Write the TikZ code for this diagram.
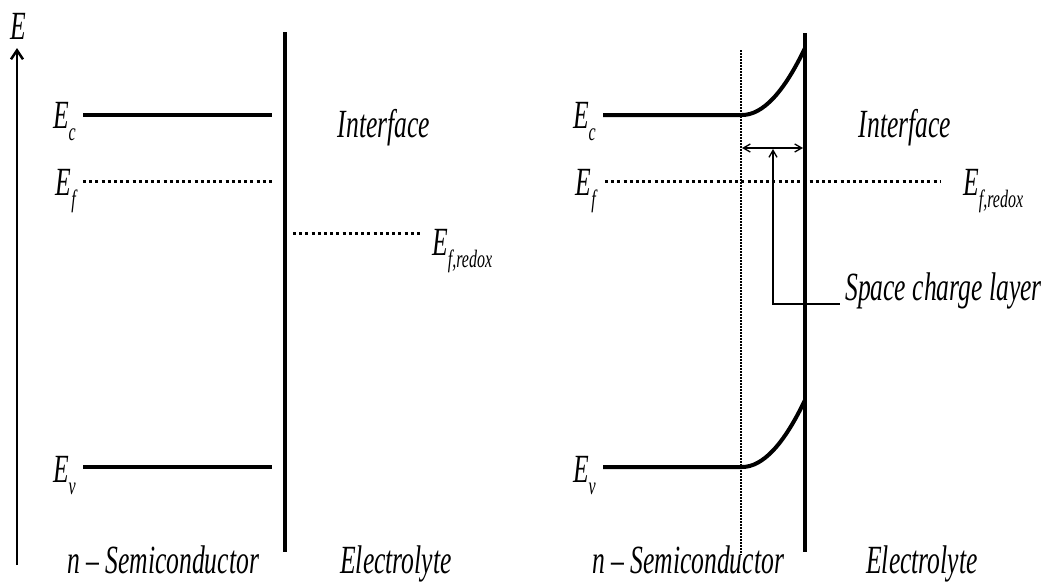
\documentclass[tikz,border=0pt]{standalone}
\usepackage{fontspec}
\setmainfont{Liberation Serif}[FakeStretch=0.64]
\usetikzlibrary{arrows.meta}
\newcommand{\bandsub}[1]{\raisebox{-0.3em}{\fontsize{25}{25}\selectfont #1}}
\tikzset{
  lbl/.style={font=\fontsize{40}{44}\selectfont\itshape, inner sep=0pt},
  band/.style={line width=4pt},
  fermi/.style={line width=3pt, dash pattern=on 3pt off 3.2pt},
  iface/.style={line width=4.5pt},
  thinline/.style={line width=1.3pt},
  barb/.style={thinline, dash pattern=on 1.5pt off 1.5pt},
}
\begin{document}
\begin{tikzpicture}[x=1pt, y=-1pt]
    \useasboundingbox (0,0) rectangle (1041,582);

    % Energy axis
    \coordinate (axisbot) at (17,565);
    \coordinate (axistop) at (17,48);
    \draw[line width=2.5pt, -{Straight Barb[length=9pt,width=12pt]}] (axisbot) -- (axistop);
    \node[lbl] (elbl) at (18,26) {E};

    % Left panel: levels before contact
    \coordinate (lec0) at (83,115);  \coordinate (lec1) at (272,115);
    \coordinate (lef0) at (83,181);  \coordinate (lef1) at (272,181);
    \coordinate (lev0) at (83,467);  \coordinate (lev1) at (272,467);
    \draw[band] (lec0) -- (lec1);
    \draw[fermi] (lef0) -- (lef1);
    \draw[band] (lev0) -- (lev1);
    \node[lbl, anchor=base east] (lecl) at (76,128) {E\bandsub{c}};
    \node[lbl, anchor=base east] (lefl) at (76,195) {E\bandsub{f}};
    \node[lbl, anchor=base east] (levl) at (76,482) {E\bandsub{v}};

    % Left interface
    \coordinate (lif0) at (285,32);  \coordinate (lif1) at (285,552);
    \draw[iface] (lif0) -- (lif1);
    \node[lbl] (lifl) at (384,128) {Interface};

    % Redox level in the electrolyte
    \coordinate (lrx0) at (293,233);  \coordinate (lrx1) at (421,233);
    \draw[fermi] (lrx0) -- (lrx1);
    \node[lbl, anchor=base west] (lrxl) at (432,255) {E\bandsub{f,redox}};

    \node[lbl, anchor=base] (lsc) at (163,573) {n -- Semiconductor};
    \node[lbl, anchor=base] (lel) at (396,573) {Electrolyte};

    % Right panel: levels after contact (band bending)
    \coordinate (rec0) at (603,115);  \coordinate (recb) at (742,115);
    \coordinate (rec1) at (805,48);
    \coordinate (rev0) at (603,467);  \coordinate (revb) at (742,467);
    \coordinate (rev1) at (805,400);
    \coordinate (ref0) at (605,181);  \coordinate (ref1) at (940,181);
    \draw[band] (rec0) -- (recb) .. controls +(21,0) and +(-21,44) .. (rec1);
    \draw[band] (rev0) -- (revb) .. controls +(21,0) and +(-21,44) .. (rev1);
    \draw[fermi] (ref0) -- (ref1);
    \node[lbl, anchor=base east] (recl) at (596,128) {E\bandsub{c}};
    \node[lbl, anchor=base east] (refl) at (596,195) {E\bandsub{f}};
    \node[lbl, anchor=base east] (revl) at (596,482) {E\bandsub{v}};
    \node[lbl, anchor=base west] (rrxl) at (963,195) {E\bandsub{f,redox}};

    % Right interface
    \coordinate (rif0) at (805,33);  \coordinate (rif1) at (805,552);
    \draw[iface] (rif0) -- (rif1);
    \node[lbl] (rifl) at (905,128) {Interface};

    % Space charge layer
    \coordinate (scl0) at (741,50);  \coordinate (scl1) at (741,555);
    \draw[barb] (scl0) -- (scl1);
    \coordinate (wl) at (742,148);  \coordinate (wr) at (803,148);
    \draw[thinline, {Straight Barb[length=7pt,width=8pt]}-{Straight Barb[length=7pt,width=8pt]}] (wl) -- (wr);
    \coordinate (wmid) at (773,149);  \coordinate (wknee) at (773,304);
    \coordinate (wend) at (840,304);
    \draw[thinline, {Straight Barb[length=7pt,width=8pt]}-] (wmid) -- (wknee) -- (wend);
    \node[lbl, anchor=base west] (scll) at (845,300) {Space charge layer};

    \node[lbl, anchor=base] (rsc) at (688,573) {n -- Semiconductor};
    \node[lbl, anchor=base] (rel) at (922,573) {Electrolyte};
\end{tikzpicture}
\end{document}
